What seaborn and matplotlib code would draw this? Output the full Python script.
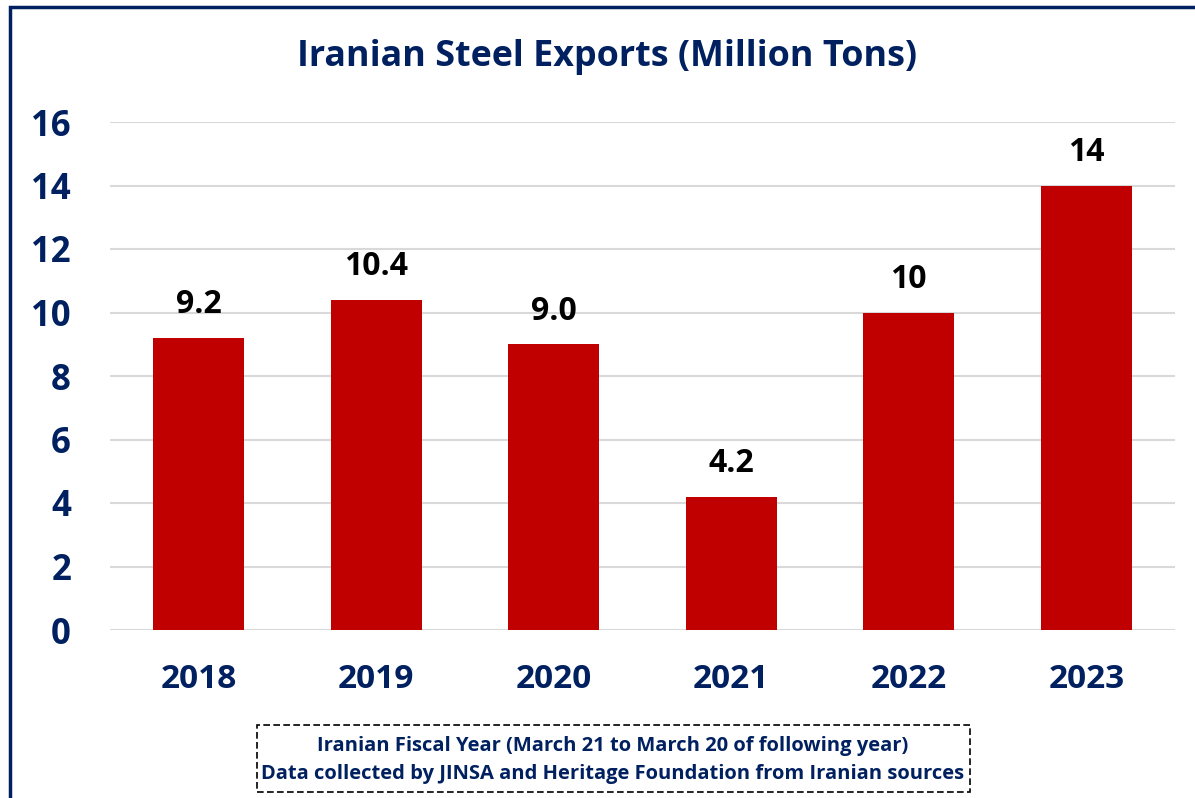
import matplotlib
matplotlib.use("Agg")
import matplotlib.pyplot as plt
import seaborn as sns
import pandas as pd
from matplotlib.patches import Rectangle

years = ["2018", "2019", "2020", "2021", "2022", "2023"]
exports = [9.2, 10.4, 9.0, 4.2, 10, 14]
value_labels = ["9.2", "10.4", "9.0", "4.2", "10", "14"]
yticks = [0, 2, 4, 6, 8, 10, 12, 14, 16]
title = "Iranian Steel Exports (Million Tons)"
note_lines = ["Iranian Fiscal Year (March 21 to March 20 of following year)",
              "Data collected by JINSA and Heritage Foundation from Iranian sources"]

sns.set_theme(style="white")
plt.rcParams['font.family'] = ['Open Sans', 'DejaVu Sans']
NAVY = "#002060"
RED = "#C00000"

df = pd.DataFrame({"year": years, "value": exports})

fig = plt.figure(figsize=(11.95, 7.98), dpi=100)
ax = fig.add_axes([110/1195, 1-630/798, (1175-110)/1195, (630-122)/798])

sns.barplot(data=df, x="year", y="value", color=RED, width=0.51, saturation=1,
            ax=ax, zorder=3, edgecolor="none")

ax.set_ylim(0, 16)
ax.set_xlim(-0.5, len(years) - 0.5)
ax.set_yticks(yticks)
ax.set_yticklabels([str(t) for t in yticks])
ax.yaxis.grid(True, color="#d9d9d9", linewidth=1.5, zorder=0)
ax.xaxis.grid(False)
for s in ax.spines.values():
    s.set_visible(False)
ax.set_xlabel("")
ax.set_ylabel("")
ax.tick_params(axis="y", length=0, pad=28, labelsize=25, labelcolor=NAVY)
ax.tick_params(axis="x", length=0, pad=24, labelsize=24, labelcolor=NAVY)
for lbl in ax.get_xticklabels() + ax.get_yticklabels():
    lbl.set_fontweight("bold")

ax.bar_label(ax.containers[0], labels=value_labels, padding=12, fontsize=23,
             fontweight="bold", color="black")

fig.text(607/1195, 1-57/798, title, ha="center", va="center", fontsize=25.8,
         fontweight="bold", color=NAVY)

# outer border (partially cropped)
fig.add_artist(Rectangle((10/1195, -0.05), 1.2, 1 - 7/798 + 0.05,
                         transform=fig.transFigure, fill=False,
                         edgecolor=NAVY, linewidth=2.5))

# note box
fig.add_artist(Rectangle((257/1195, 1-792/798), (970-257)/1195, (792-725)/798,
                         transform=fig.transFigure, fill=False,
                         edgecolor="black", linewidth=1.2, linestyle=(0, (4, 2))))
fig.text(613/1195, 1-746/798, note_lines[0], ha="center", va="center",
         fontsize=14.5, fontweight="bold", color=NAVY)
fig.text(613/1195, 1-774/798, note_lines[1], ha="center", va="center",
         fontsize=14.5, fontweight="bold", color=NAVY)

fig.savefig("out.png", dpi=100)
